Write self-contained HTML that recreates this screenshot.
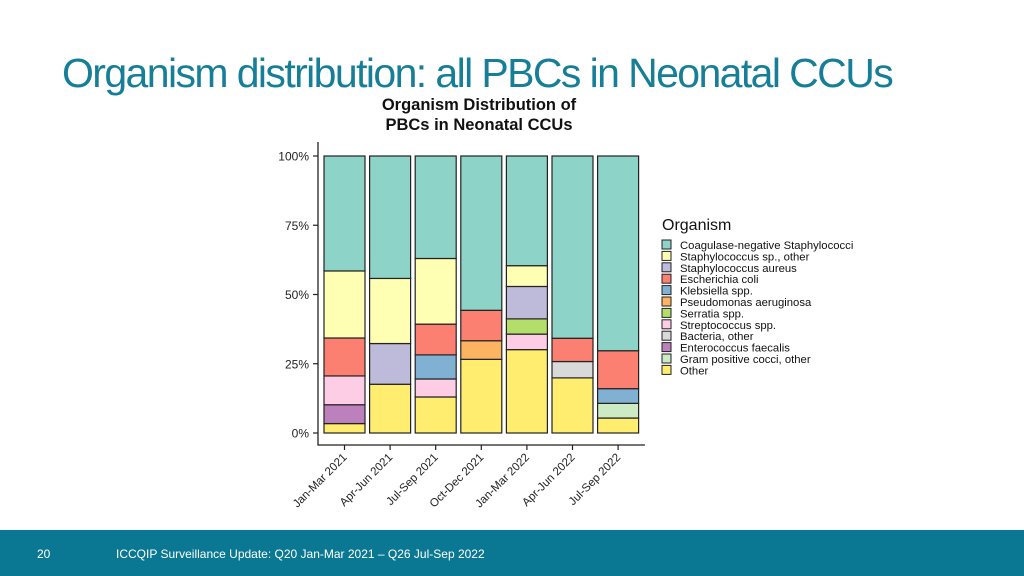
<!DOCTYPE html>
<html><head><meta charset="utf-8"><style>
body{margin:0;width:1024px;height:576px;background:#fff;overflow:hidden;font-family:"Liberation Sans",sans-serif;position:relative}
#title{position:absolute;left:62px;top:50px;font-size:41px;color:#177e98;letter-spacing:-1.6px;white-space:nowrap}
#footer{position:absolute;left:0;top:530px;width:1024px;height:46px;background:#0b7893}
#footer span{position:absolute;top:17px;color:#fff;font-size:12px}
</style></head><body>
<div id="title">Organism distribution: all PBCs in Neonatal CCUs</div>
<svg id="chart" width="1024" height="530" style="position:absolute;left:0;top:0" font-family="Liberation Sans, sans-serif"></svg>
<div id="footer">
<span style="left:37px">20</span>
<span style="left:116px">ICCQIP Surveillance Update: Q20 Jan-Mar 2021 – Q26 Jul-Sep 2022</span>
</div>
<script>
const categories=["Jan-Mar 2021","Apr-Jun 2021","Jul-Sep 2021","Oct-Dec 2021","Jan-Mar 2022","Apr-Jun 2022","Jul-Sep 2022"];
const organisms=["Coagulase-negative Staphylococci","Staphylococcus sp., other","Staphylococcus aureus","Escherichia coli","Klebsiella spp.","Pseudomonas aeruginosa","Serratia spp.","Streptococcus spp.","Bacteria, other","Enterococcus faecalis","Gram positive cocci, other","Other"];
const colors=["#8DD3C7","#FFFFB3","#BEBADA","#FB8072","#80B1D3","#FDB462","#B3DE69","#FCCDE5","#D9D9D9","#BC80BD","#CCEBC5","#FFED6F"];
// values in % per organism (legend order), one per category
const cons=[41.5,44.2,37.0,55.7,39.6,65.8,70.3];
const staphOther=[24.2,23.5,23.7,0,7.5,0,0];
const saureus=[0,14.7,0,0,11.7,0,0];
const ecoli=[13.7,0,11.1,11.0,0,8.4,13.7];
const kleb=[0,0,8.7,0,0,0,5.3];
const pseudo=[0,0,0,6.7,0,0,0];
const serratia=[0,0,0,0,5.5,0,0];
const strep=[10.4,0,6.5,0,5.6,0,0];
const bactOther=[0,0,0,0,0,5.9,0];
const entero=[6.8,0,0,0,0,0,0];
const gramPos=[0,0,0,0,0,0,5.3];
const other=[3.4,17.6,13.0,26.6,30.1,19.9,5.4];
const yTicks=[0,25,50,75,100];
const yTickLabels=["0%","25%","50%","75%","100%"];
const series=[cons,staphOther,saureus,ecoli,kleb,pseudo,serratia,strep,bactOther,entero,gramPos,other];
const NS="http://www.w3.org/2000/svg";
const svg=document.getElementById('chart');
function mk(t,a,p){const e=document.createElementNS(NS,t);for(const k in a)e.setAttribute(k,a[k]);(p||svg).appendChild(e);return e;}
const y0=433,y1=156;
const yS=v=>y0-(v/100)*(y0-y1);
const xS=i=>344.5+i*45.6;
const bw=41;
let t=mk('text',{x:479,y:110,'text-anchor':'middle','font-size':16.5,'font-weight':'bold',fill:'#111'});t.textContent='Organism Distribution of';


t=mk('text',{x:479,y:130,'text-anchor':'middle','font-size':16.5,'font-weight':'bold',fill:'#111'});t.textContent='PBCs in Neonatal CCUs';


// bars
categories.forEach((c,i)=>{
 let cum=0;
 for(let s=series.length-1;s>=0;s--){
  const v=series[s][i]; if(!v) continue;
  const r=mk('rect',{x:xS(i)-bw/2,y:yS(cum+v),width:bw,height:yS(cum)-yS(cum+v),fill:colors[s],stroke:'#222','stroke-width':1.2});
  
  
  cum+=v;
 }
 const tk=mk('line',{x1:xS(i),x2:xS(i),y1:445,y2:450,stroke:'#222','stroke-width':1.2});
 
 
 const lb=mk('text',{x:xS(i)+3,y:458,'text-anchor':'end','font-size':11.5,fill:'#222',transform:`rotate(-45 ${xS(i)+3} 458)`});
 lb.textContent=c;
 
 
});
let ax=mk('line',{x1:318,x2:318,y1:142,y2:445.5,stroke:'#222','stroke-width':1.3});


ax=mk('line',{x1:317.5,x2:645,y1:445,y2:445,stroke:'#222','stroke-width':1.3});


yTicks.forEach((v,i)=>{
 const l=mk('line',{x1:313,x2:318,y1:yS(v),y2:yS(v),stroke:'#222','stroke-width':1.2});
 
 
 const tx=mk('text',{x:309,y:yS(v)+4.5,'text-anchor':'end','font-size':12,fill:'#222'});
 tx.textContent=yTickLabels[i];
 
 
});
t=mk('text',{x:662,y:230,'font-size':16,fill:'#111'});t.textContent='Organism';


organisms.forEach((o,i)=>{
 const y=240+i*11.4;
 const r=mk('rect',{x:662,y:y,width:9,height:9,fill:colors[i],stroke:'#222','stroke-width':1});
 
 
 const tx=mk('text',{x:680,y:y+9,'font-size':11.3,fill:'#111'});
 tx.textContent=o;
 
 
});
</script>
</body></html>
